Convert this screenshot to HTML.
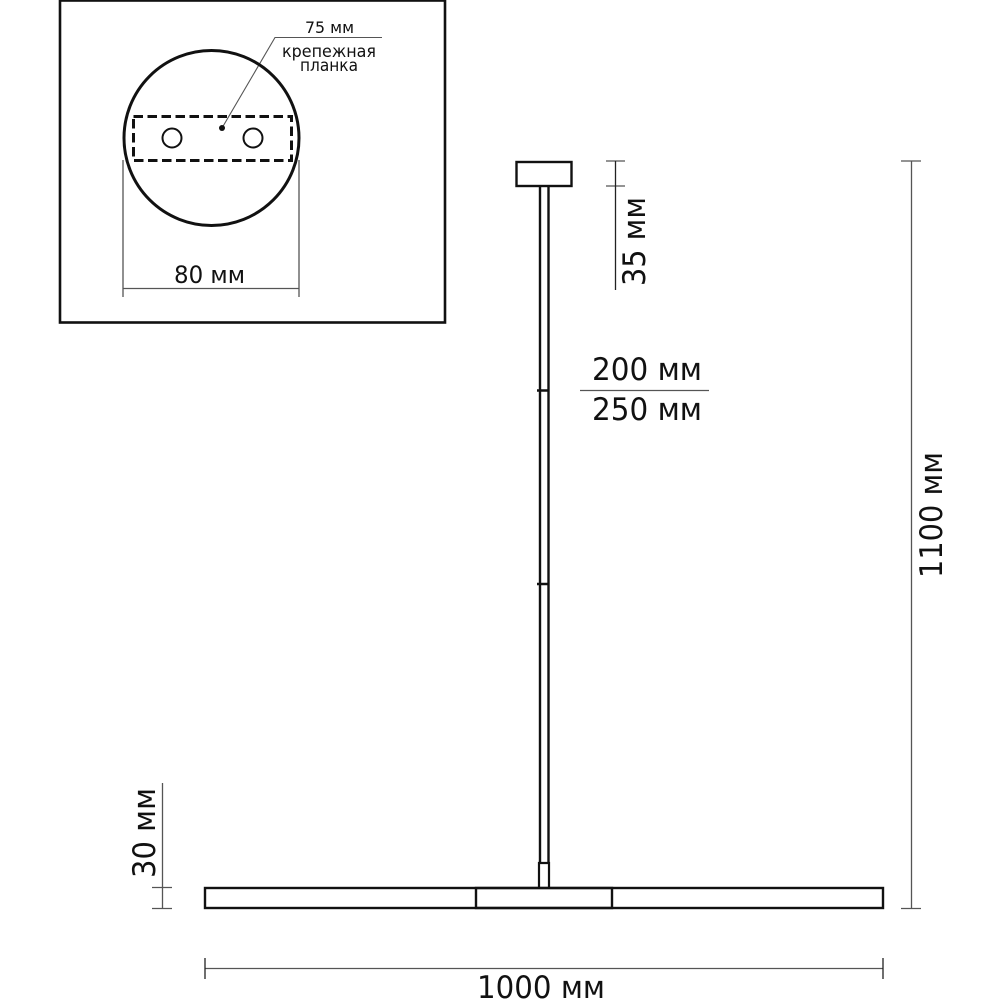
<!DOCTYPE html>
<html><head><meta charset="utf-8"><style>html,body{margin:0;padding:0;background:#fff}svg{display:block}text{font-family:"DejaVu Sans","Liberation Sans",sans-serif;fill:#111}</style></head>
<body>
<svg width="1000" height="1000" viewBox="0 0 1000 1000" xmlns="http://www.w3.org/2000/svg">
<rect width="1000" height="1000" fill="#fff"/>
<g fill="none" stroke="#555" stroke-width="1.3">
<path d="M222 128L275 37.500H382" stroke-width="1.1"/>
<path d="M123 160V297M299 160V297M123 288.500H299"/>
<path d="M606 161H625M606 186H625" />
<path d="M615.500 161V290" stroke="#222"/>
<path d="M580 390.500H709"/>
<path d="M901 161H921M901 908.500H921M911.500 161V908"/>
<path d="M162.500 783V908M152 887.500H172M152 908.500H172"/>
<path d="M205 968.500H883"/>
<path d="M205 958V979M883 958V979" stroke="#222"/>
</g>
<g fill="none" stroke="#111">
<rect x="60" y="0.500" width="385" height="322" stroke-width="2.600"/>
<circle cx="211.500" cy="138" r="87.500" stroke-width="3"/>
<rect x="133.500" y="116.500" width="158" height="44" stroke-width="3" stroke-dasharray="9.500 4.500"/>
<circle cx="172" cy="138" r="9.500" stroke-width="2"/>
<circle cx="253" cy="138" r="9.500" stroke-width="2"/>
<rect x="516.500" y="162" width="55" height="24" stroke-width="2.400"/>
<path d="M540 186V863M548.500 186V863M537 390.500H549M537 584H549" stroke-width="2.400"/>
<path d="M539 888V863H549V888" stroke-width="2.200"/>
<rect x="205" y="888" width="678" height="20" stroke-width="2.400"/>
<rect x="476" y="888" width="136" height="20" stroke-width="2.400"/>
</g>
<circle cx="222" cy="128" r="3" fill="#111"/>
<text x="305" y="33" font-size="16" textLength="49" lengthAdjust="spacingAndGlyphs">75 мм</text>
<text x="282" y="57" font-size="17" textLength="94" lengthAdjust="spacingAndGlyphs">крепежная</text>
<text x="300" y="71" font-size="17" textLength="58" lengthAdjust="spacingAndGlyphs">планка</text>
<text x="174" y="283" font-size="24" textLength="71" lengthAdjust="spacingAndGlyphs">80 мм</text>
<text x="592" y="380" font-size="31" textLength="110" lengthAdjust="spacingAndGlyphs">200 мм</text>
<text x="592" y="420" font-size="31" textLength="110" lengthAdjust="spacingAndGlyphs">250 мм</text>
<text x="477" y="998" font-size="31" textLength="128" lengthAdjust="spacingAndGlyphs">1000 мм</text>
<text transform="translate(645 286) rotate(-90)" font-size="31" textLength="89" lengthAdjust="spacingAndGlyphs">35 мм</text>
<text transform="translate(155 878) rotate(-90)" font-size="31" textLength="90" lengthAdjust="spacingAndGlyphs">30 мм</text>
<text transform="translate(942 578) rotate(-90)" font-size="31" textLength="126" lengthAdjust="spacingAndGlyphs">1100 мм</text>
</svg>
</body></html>
